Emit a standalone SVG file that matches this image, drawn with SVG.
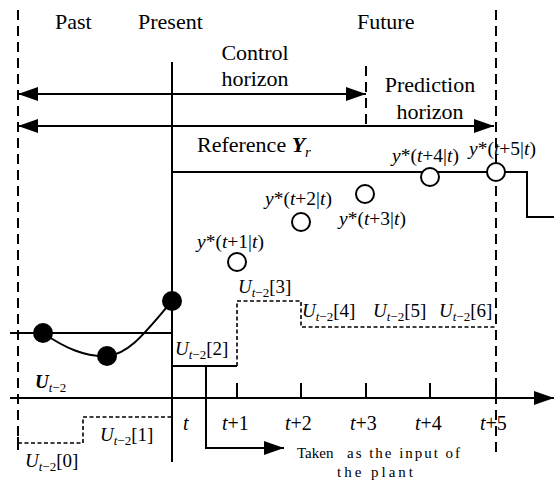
<svg xmlns="http://www.w3.org/2000/svg" width="554" height="483" viewBox="0 0 554 483">
<style>
text{fill:#000}
.big{font-size:22px}
.mid{font-size:20px}
.ys{font-size:19.5px}
.u{font-size:19px}
.sub{font-size:13px}
.small{font-size:15px}
.it{font-style:italic}
.bi{font-style:italic;font-weight:bold}
.solid{stroke:#000;stroke-width:2;fill:none}
.long{stroke:#000;stroke-width:2;fill:none;stroke-dasharray:10 6}
.short{stroke:#000;stroke-width:1.6;fill:none;stroke-dasharray:4 2.5}
.dot{fill:#000}
.hollow{fill:#fff;stroke:#000;stroke-width:2}
</style>
<defs>
<marker id="ah" viewBox="0 0 20 14" refX="20" refY="7" markerWidth="20" markerHeight="14" markerUnits="userSpaceOnUse" orient="auto-start-reverse">
<path d="M0,0 L20,7 L0,14 z" fill="#000"/>
</marker>
</defs>

<g id="frame">
<line class="long" x1="18" y1="10" x2="18" y2="450"/>
<line class="long" x1="496" y1="10" x2="496" y2="452"/>
<line class="long" x1="366" y1="66" x2="366" y2="128"/>
<line class="solid" x1="172" y1="62" x2="172" y2="462"/>
</g>

<g id="labels-top">
<text class="big" font-family="Liberation Serif, serif" x="55" y="29">Past</text>
<text class="big" font-family="Liberation Serif, serif" x="138" y="29">Present</text>
<text class="big" font-family="Liberation Serif, serif" x="357" y="29">Future</text>
<text class="big" font-family="Liberation Serif, serif" x="255" y="60" text-anchor="middle">Control</text>
<text class="big" font-family="Liberation Serif, serif" x="255" y="86" text-anchor="middle">horizon</text>
<text class="big" font-family="Liberation Serif, serif" x="430" y="92" text-anchor="middle">Prediction</text>
<text class="big" font-family="Liberation Serif, serif" x="430" y="119" text-anchor="middle">horizon</text>
<text class="big" font-family="Liberation Serif, serif" x="197" y="152">Reference <tspan class="bi">Y</tspan><tspan class="it" font-size="15" dy="5">r</tspan></text>
</g>

<g id="connectors">
<line class="solid" x1="18" y1="94" x2="366" y2="94" marker-start="url(#ah)" marker-end="url(#ah)"/>
<line class="solid" x1="18" y1="126" x2="494" y2="126" marker-start="url(#ah)" marker-end="url(#ah)"/>
<polyline class="solid" points="172,172 527,172 527,217 554,217"/>
<line class="solid" x1="10" y1="398" x2="554" y2="398" marker-end="url(#ah)"/>
<line class="solid" x1="10" y1="333" x2="172" y2="333"/>
<path class="solid" d="M43,333 C65,348 85,357 107,356 C130,354 147,330 172,301"/>
<polyline class="solid" points="172,366 237,366"/>
<polyline class="short" points="237,366 237,301 301,301 301,327 496,327"/>
<polyline class="short" points="18,443 83,443 83,417 172,417"/>
<line class="solid" x1="18" y1="437" x2="18" y2="449"/>
<polyline class="solid" points="206,366 206,448 284,448" marker-end="url(#ah)"/>
</g>

<g id="ticks">
<line class="solid" x1="237" y1="383" x2="237" y2="398"/>
<line class="solid" x1="301" y1="383" x2="301" y2="398"/>
<line class="solid" x1="366" y1="383" x2="366" y2="398"/>
<line class="solid" x1="430" y1="383" x2="430" y2="398"/>
<line class="solid" x1="496" y1="383" x2="496" y2="398"/>
<text class="mid it" font-family="Liberation Serif, serif" x="183" y="430">t</text>
<text class="mid" font-family="Liberation Serif, serif" x="222" y="430"><tspan class="it">t</tspan>+1</text>
<text class="mid" font-family="Liberation Serif, serif" x="285" y="430"><tspan class="it">t</tspan>+2</text>
<text class="mid" font-family="Liberation Serif, serif" x="350" y="430"><tspan class="it">t</tspan>+3</text>
<text class="mid" font-family="Liberation Serif, serif" x="415" y="430"><tspan class="it">t</tspan>+4</text>
<text class="mid" font-family="Liberation Serif, serif" x="480" y="430"><tspan class="it">t</tspan>+5</text>
</g>

<g id="past-points">
<circle class="dot" cx="43" cy="333" r="10"/>
<circle class="dot" cx="107" cy="356" r="10"/>
<circle class="dot" cx="172" cy="301" r="10"/>
</g>

<g id="predictions">
<circle class="hollow" cx="237" cy="262" r="9"/>
<circle class="hollow" cx="301" cy="222" r="9"/>
<circle class="hollow" cx="365" cy="194" r="9"/>
<circle class="hollow" cx="430" cy="177" r="9"/>
<circle class="hollow" cx="496" cy="172" r="9"/>
<text class="ys" font-family="Liberation Serif, serif" x="197" y="248"><tspan class="it">y</tspan>*(<tspan class="it">t</tspan>+1|<tspan class="it">t</tspan>)</text>
<text class="ys" font-family="Liberation Serif, serif" x="265" y="205"><tspan class="it">y</tspan>*(<tspan class="it">t</tspan>+2|<tspan class="it">t</tspan>)</text>
<text class="ys" font-family="Liberation Serif, serif" x="339" y="225"><tspan class="it">y</tspan>*(<tspan class="it">t</tspan>+3|<tspan class="it">t</tspan>)</text>
<text class="ys" font-family="Liberation Serif, serif" x="392" y="162"><tspan class="it">y</tspan>*(<tspan class="it">t</tspan>+4|<tspan class="it">t</tspan>)</text>
<text class="ys" font-family="Liberation Serif, serif" x="469" y="155"><tspan class="it">y</tspan>*(<tspan class="it">t</tspan>+5|<tspan class="it">t</tspan>)</text>
</g>

<g id="inputs">
<text class="u" font-family="Liberation Serif, serif" x="35" y="388"><tspan class="bi">U</tspan><tspan class="sub it" dy="4">t</tspan><tspan class="sub">−2</tspan></text>
<text class="u" font-family="Liberation Serif, serif" x="25" y="467"><tspan class="it">U</tspan><tspan class="sub it" dy="4">t</tspan><tspan class="sub">−2</tspan><tspan dy="-4">[0]</tspan></text>
<text class="u" font-family="Liberation Serif, serif" x="100" y="441"><tspan class="it">U</tspan><tspan class="sub it" dy="4">t</tspan><tspan class="sub">−2</tspan><tspan dy="-4">[1]</tspan></text>
<text class="u" font-family="Liberation Serif, serif" x="175" y="355"><tspan class="it">U</tspan><tspan class="sub it" dy="4">t</tspan><tspan class="sub">−2</tspan><tspan dy="-4">[2]</tspan></text>
<text class="u" font-family="Liberation Serif, serif" x="238" y="293"><tspan class="it">U</tspan><tspan class="sub it" dy="4">t</tspan><tspan class="sub">−2</tspan><tspan dy="-4">[3]</tspan></text>
<text class="u" font-family="Liberation Serif, serif" x="302" y="317"><tspan class="it">U</tspan><tspan class="sub it" dy="4">t</tspan><tspan class="sub">−2</tspan><tspan dy="-4">[4]</tspan></text>
<text class="u" font-family="Liberation Serif, serif" x="373" y="317"><tspan class="it">U</tspan><tspan class="sub it" dy="4">t</tspan><tspan class="sub">−2</tspan><tspan dy="-4">[5]</tspan></text>
<text class="u" font-family="Liberation Serif, serif" x="439" y="317"><tspan class="it">U</tspan><tspan class="sub it" dy="4">t</tspan><tspan class="sub">−2</tspan><tspan dy="-4">[6]</tspan></text>
</g>

<g id="note">
<text class="small" font-family="Liberation Serif, serif" x="297" y="458">Taken</text>
<text class="small" font-family="Liberation Serif, serif" x="347" y="458" textLength="113" lengthAdjust="spacing">as the input of</text>
<text class="small" font-family="Liberation Serif, serif" x="337" y="477" textLength="76" lengthAdjust="spacing">the plant</text>
</g>
</svg>
